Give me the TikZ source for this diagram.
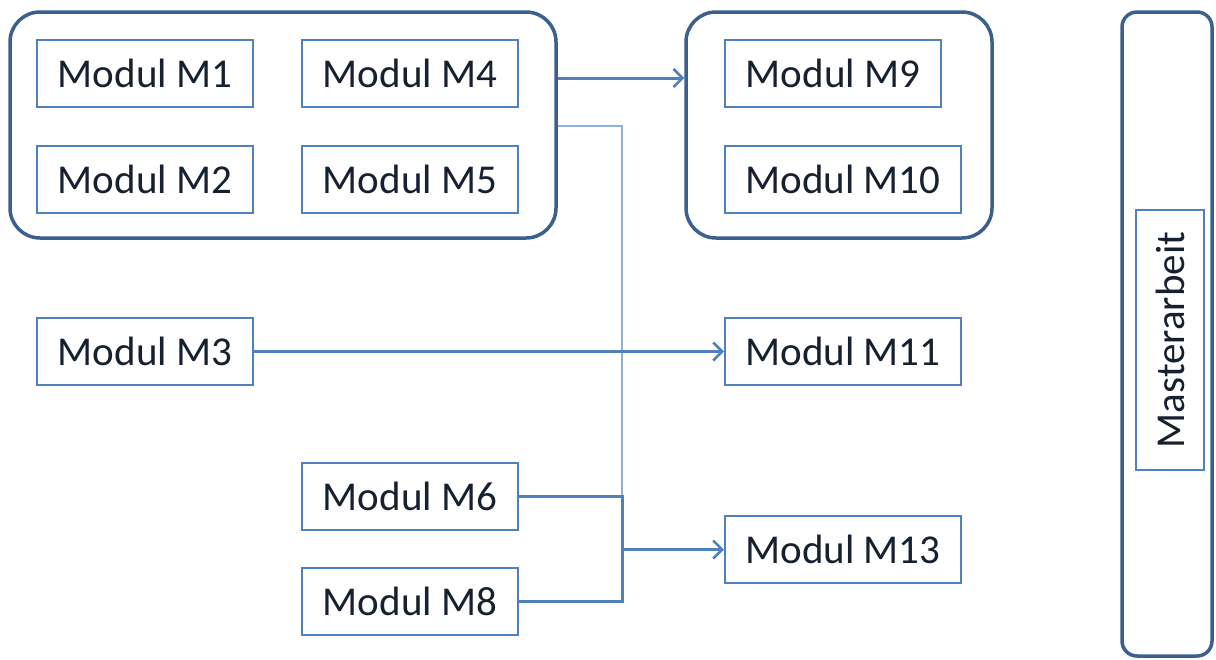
\documentclass[tikz,border=0pt]{standalone}
\usepackage{fontspec}
\setmainfont{Carlito}
\usetikzlibrary{arrows.meta}
\definecolor{boxblue}{HTML}{4F81BD}
\definecolor{grpblue}{HTML}{3B5F8E}
\definecolor{lightblue}{HTML}{8EB0DA}
\definecolor{txt}{HTML}{16202F}
\tikzset{
  modbox/.style={draw=boxblue, line width=2pt, minimum width=216pt, minimum height=67pt, inner sep=0pt, text=txt, font=\fontsize{41}{49}\selectfont},
  grpbox/.style={draw=grpblue, line width=3.5pt, rounded corners=30pt, inner sep=0pt},
  conn/.style={draw=boxblue, line width=3pt},
  arr/.style={conn, -{Straight Barb[length=9pt,width=18pt,line width=2.5pt]}},
}
\begin{document}
\begin{tikzpicture}[x=1pt,y=-1pt]
\useasboundingbox (0,0) rectangle (1216,659);
% groups
\node[grpbox, minimum width=546pt, minimum height=226pt] (g1) at (283,125) {};
\node[grpbox, minimum width=306pt, minimum height=226pt] (g2) at (839,125) {};
\node[grpbox, rounded corners=15pt, minimum width=90pt, minimum height=644pt] (ma) at (1167,334) {};
% modules
\node[modbox] (m1) at (145,73.5) {Modul M1};
\node[modbox] (m4) at (410,73.5) {Modul M4};
\node[modbox] (m2) at (145,179) {Modul M2};
\node[modbox] (m5) at (410,179) {Modul M5};
\node[modbox] (m9) at (833,73.5) {Modul M9};
\node[modbox, minimum width=236pt] (m10) at (843,179) {Modul M10};
\node[modbox] (m3) at (145,351.5) {Modul M3};
\node[modbox, minimum width=236pt] (m11) at (843,351.5) {Modul M11};
\node[modbox] (m6) at (410,496.5) {Modul M6};
\node[modbox] (m8) at (410,601.5) {Modul M8};
\node[modbox, minimum width=236pt] (m13) at (843,549.5) {Modul M13};
\node[modbox, minimum width=260pt, minimum height=68pt, rotate=90] (mt) at (1170,340) {Masterarbeit};
% helper coordinates
\coordinate (ya) at (0,78);
\coordinate (yb) at (0,126);
\coordinate (jx) at (622,0);
% connectors
\draw[arr] (g1.east |- ya) -- (g2.west |- ya);
\draw[draw=lightblue, line width=2.5pt] (g1.east |- yb) -- (jx |- yb) -- (jx |- m6.east);
\draw[arr] (m3.east) -- (m11.west);
\draw[conn] (m6.east) -- (m6.east -| jx) -- (m8.east -| jx) -- (m8.east);
\draw[arr] (jx |- m13.west) -- (m13.west);
\end{tikzpicture}
\end{document}
